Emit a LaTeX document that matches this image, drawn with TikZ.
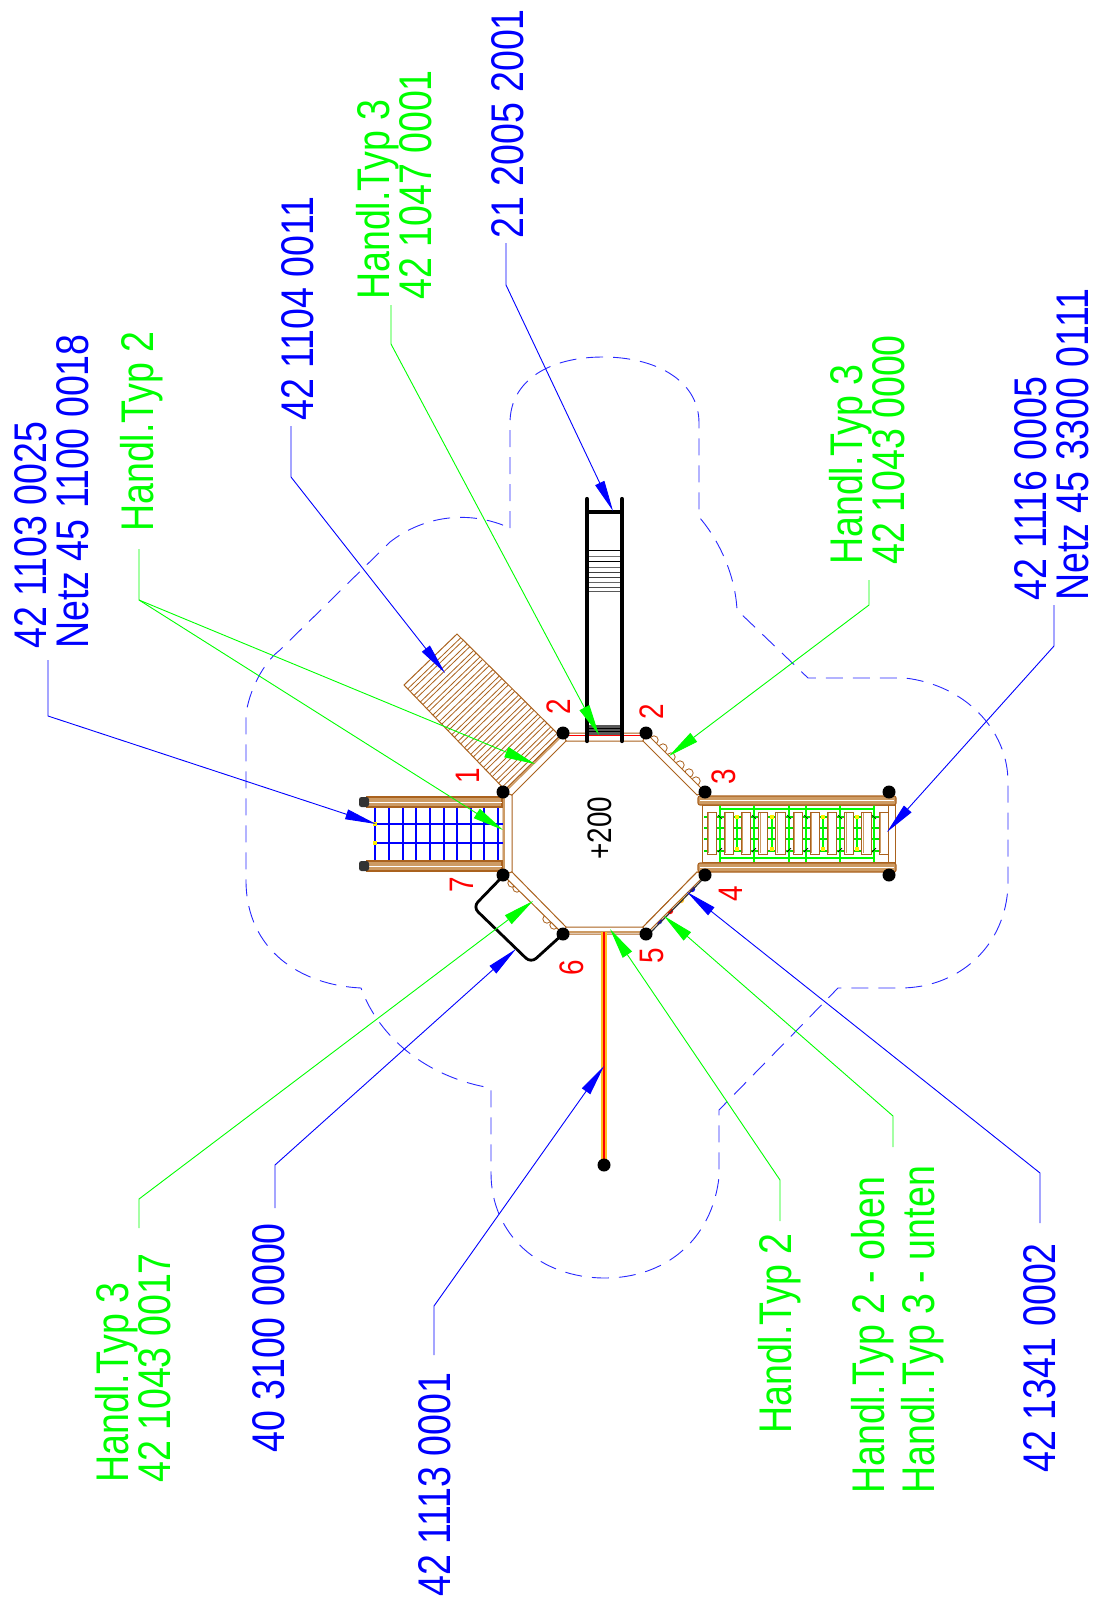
\documentclass[tikz,border=0pt]{standalone}
\usepackage{fontspec}
\setmainfont[FakeStretch=0.82]{Liberation Sans}
\usetikzlibrary{arrows.meta,calc}
\definecolor{bl}{RGB}{0,0,255}
\definecolor{gr}{RGB}{0,255,0}
\definecolor{brn}{RGB}{170,98,30}
\definecolor{tann}{RGB}{205,155,100}
\definecolor{dashbl}{RGB}{40,40,255}
\definecolor{org}{RGB}{255,190,30}
\tikzset{
  lbl/.style={rotate=90,anchor=west,inner sep=0pt,align=left,font=\fontsize{45.8}{42}\selectfont},
  lblwide/.style={lbl,font=\fontsize{45.8}{50}\selectfont},
  blue label/.style={lbl,text=bl},
  green label/.style={lbl,text=gr},
  num/.style={rotate=90,inner sep=0pt,text=red,font=\fontsize{34}{34}\selectfont},
  bleader/.style={draw=bl,line width=.9pt,line join=miter},
  gleader/.style={draw=gr,line width=.9pt,line join=miter},
  btip/.style={-{Triangle[length=31pt,width=10pt,color=bl]}},
  gtip/.style={-{Triangle[length=31pt,width=11pt,color=gr]}},
  post/.style={circle,fill=black,inner sep=0pt,minimum size=13pt},
  panel/.style={draw=brn,fill=white,line width=1pt,line join=miter},
  thinb/.style={draw=brn,line width=.8pt},
  beam/.style={draw=brn,fill=tann,line width=1.1pt},
  boundary/.style={draw=dashbl,line width=.9pt,dash pattern=on 17pt off 10pt},
  netline/.style={draw=bl,line width=2.2pt},
  rung/.style={draw=gr!90!black,line width=1.8pt},
  grail/.style={draw=gr,line width=2.3pt},
  slat/.style={draw=brn,fill=white,line width=.9pt},
}
\begin{document}
\begin{tikzpicture}[x=1pt,y=-1pt]
\useasboundingbox (0,0) rectangle (1095,1609);

% play-area boundary
\draw[boundary] (510,528) -- (510,423) .. controls (510,380) and (550,357) .. (603,357)
  .. controls (655,357) and (699,380) .. (699,423) -- (699,517)
  .. controls (715,535) and (735,570) .. (737,610) -- (808,678) -- (905,678)
  .. controls (965,685) and (1008,730) .. (1008,782) -- (1008,885)
  .. controls (1006,945) and (960,988) .. (900,988) -- (838,988) -- (719,1110) -- (719,1177)
  .. controls (712,1240) and (665,1278) .. (605,1278) .. controls (540,1278) and (491,1235) .. (491,1173)
  -- (491,1088) .. controls (430,1078) and (380,1040) .. (361,988)
  .. controls (300,985) and (247,950) .. (246,882) -- (246,718)
  .. controls (246,700) and (260,665) .. (280,650) -- (390,542)
  .. controls (425,515) and (470,510) .. (510,528);

% octagon corners
\foreach \n/\px/\py in {pa/563/733,pb/646/733,pc/705/792,pd/705/875,pe/646/934,pf/563/934,pg/503/875,ph/503/792}
  \coordinate (\n) at (\px,\py);
\foreach \n/\px/\py in {ia/566/741,ib/643/741,ic/697/795,id/697/872,ie/643/927,if/566/927,ig/512/872,ih/512/795}
  \coordinate (\n) at (\px,\py);

% ramp
\coordinate (ra) at (457,634);
\coordinate (rb) at (565,741);
\coordinate (rc) at (510,795);
\coordinate (rd) at (404,685);
\draw[thinb,line width=1pt] (ra)--(rb)--(rc)--(rd)--cycle;
\foreach \i in {0,...,15}{
  \pgfmathsetmacro{\ta}{0.035+0.0595*\i}
  \pgfmathsetmacro{\tb}{\ta+0.024}
  \draw[thinb] ($(ra)!\ta!(rb)$) -- ($(rd)!\ta!(rc)$);
  \draw[thinb] ($(ra)!\tb!(rb)$) -- ($(rd)!\tb!(rc)$);
}

% panels
\draw[panel] (pa)--(pb)--(ib)--(ia)--cycle;
\draw[red,line width=1pt] (566,735) -- (643,735);
\draw[panel] (pd)--(pe)--(ie)--(id)--cycle;
\draw[panel] (pe)--(pf)--(if)--(ie)--cycle;
\draw[tann,line width=1.4pt] (566,932) -- (643,932);
\draw[panel] (pg)--(ph)--(ih)--(ig)--cycle;
\draw[tann,line width=1.4pt] (504,797) -- (504,872);
\draw[panel] (ph)--(pa)--(ia)--(ih)--cycle;
\draw[tann,line width=1.4pt] (507,790) -- (562,736);

% scallops
\foreach \cx/\cy in {654/740,663/748,671/757,680/765,689/773,696/781}
  \draw[thinb] (\cx,\cy) circle[radius=4.2pt];
\draw[panel] (pb)--(pc)--(ic)--(ib)--cycle;
\foreach \cx/\cy in {512/883,517/888,547/919,554/925}
  \draw[thinb] (\cx,\cy) circle[radius=4.2pt];
\draw[panel] (pf)--(pg)--(ig)--(if)--cycle;

% coloured holds on panel 4-5
\foreach \cx/\cy/\cc in {692/889/bl,681/900/org,670/911/red,659/921/bl}
  \fill[\cc] (\cx,\cy) circle[radius=3.2pt];
\draw[panel] (pd)--(pe)--(ie)--(id)--cycle;
\draw[black!80,line width=1.2pt] (648,935) -- (704,878);

% slide
\foreach \yy/\gg in {550/100,556/55,561/100,567/60,572/75,577/75,582/60,587/70,591/65}
  \draw[black!\gg,line width=1pt] (587,\yy) -- (622,\yy);
\fill[black!65] (587,725) rectangle (622,735);
\foreach \yy in {728,731}
  \draw[black,line width=.5pt] (587,\yy) -- (622,\yy);
\draw[black,line width=4.5pt] (587,512) -- (622,512);
\draw[black,line width=4.2pt,line cap=round] (587,499) -- (587,741);
\draw[black,line width=4.2pt,line cap=round] (622,499) -- (622,741);

% net (left)
\foreach \xx in {375,389,403,416,430,444,457,471,484,498}
  \draw[netline] (\xx,806) -- (\xx,862);
\draw[netline] (375,824) -- (503,824);
\draw[netline] (375,843) -- (503,843);
\fill[yellow] (373,822) rectangle (377,826);
\fill[yellow] (373,841) rectangle (377,845);
\draw[beam] (367,797) rectangle (502,807);
\draw[white,line width=.8pt] (367,802) -- (502,802);
\draw[beam] (367,861) rectangle (502,871);
\draw[white,line width=.8pt] (367,866) -- (502,866);
\fill[black!80,rounded corners=2.5pt] (359,797) rectangle (369,807);
\fill[black!80,rounded corners=2.5pt] (359,861) rectangle (369,871);

% ladder structure (right)
\draw[thinb,fill=white,line width=1pt] (702,805) rectangle (895,862);
\draw[thinb] (888,805) -- (888,862);
\foreach \yy in {817,828,839,851}
  \draw[rung] (704,\yy) -- (887,\yy);
\foreach \i in {0,...,10}{
  \pgfmathsetmacro{\xl}{707+17.2*\i}
  \draw[slat] (\xl,812) rectangle ({\xl+9.3},854);
  \draw[tann,line width=.8pt] ({\xl+1.4},813) -- ({\xl+1.4},853);
}
\foreach \xx in {720,754,789,806,840,874}
  \draw[grail] (\xx,805) -- (\xx,862);
\foreach \xx in {737,772,823,857}
  \draw[grail,line width=1.7pt] (\xx,817) -- (\xx,850);
\draw[grail] (720,809) -- (874,809);
\draw[grail] (720,858) -- (874,858);
\foreach \xx in {737,772,823,857}{
  \fill[yellow] (\xx-2,815) rectangle (\xx+2,819);
  \fill[yellow] (\xx-2,847) rectangle (\xx+2,851);
}
\foreach \xx in {720,754,789,806,840,874}{
  \draw[black,line width=.7pt] (\xx-2,815) -- (\xx+2,819);
  \draw[black,line width=.7pt] (\xx-2,852) -- (\xx+2,848);
}
\draw[beam,rounded corners=2pt] (698,796) rectangle (896,805);
\draw[white,line width=.8pt] (700,800.5) -- (894,800.5);
\draw[beam,rounded corners=2pt] (698,863) rectangle (896,872);
\draw[white,line width=.8pt] (700,867.5) -- (894,867.5);

% sliding pole
\draw[org,line width=6pt] (604,932) -- (604,1165);
\draw[red,line width=2.8pt] (604,932) -- (604,1165);

% hand rail
\draw[black,line width=2.8pt,rounded corners=7pt] (504,875) -- (473,907) -- (531,963) -- (563,934);

% posts
\node[post] (p1) at (pa) {};
\node[post] (p2) at (pb) {};
\node[post] (p3) at (pc) {};
\node[post] (p4) at (pd) {};
\node[post] (p5) at (pe) {};
\node[post] (p6) at (pf) {};
\node[post] (p7) at (pg) {};
\node[post] (p8) at (ph) {};
\node[post] (p9) at (889,792) {};
\node[post] (p10) at (889,875) {};
\node[post] (p11) at (604,1165) {};

% centre and numbers
\node[rotate=90,inner sep=0pt,font=\fontsize{34}{34}\selectfont] (lev) at (600,828) {+200};
\node[num] (n1) at (468,776) {1};
\node[num] (n2a) at (559,707) {2};
\node[num] (n2b) at (652,712) {2};
\node[num] (n3) at (724,777) {3};
\node[num] (n4) at (731,894) {4};
\node[num] (n5) at (652,956) {5};
\node[num] (n6) at (572,968) {6};
\node[num] (n7) at (462,885) {7};

% labels
\node[blue label] (l1) at (52,649) {42 1103 0025\\Netz 45 1100 0018};
\node[green label] (l2) at (142,532) {Handl.Typ 2};
\node[blue label] (l3) at (298,421) {42 1104 0011};
\node[green label] (l4) at (394,300) {Handl.Typ 3\\42 1047 0001};
\node[blue label] (l5) at (508,239) {21 2005 2001};
\node[green label] (l6) at (867,565) {Handl.Typ 3\\42 1043 0000};
\node[blue label] (l7) at (1052,601) {42 1116 0005\\Netz 45 3300 0111};
\node[green label] (l8) at (133,1483) {Handl.Typ 3\\42 1043 0017};
\node[blue label] (l9) at (269,1453) {40 3100 0000};
\node[blue label] (l10) at (435,1597) {42 1113 0001};
\node[green label] (l11) at (780,1434) {Handl.Typ 2};
\node[lblwide,text=gr] (l12) at (898,1494) {Handl.Typ 2 - oben\\Handl.Typ 3 - unten};
\node[blue label] (l13) at (1040,1473) {42 1341 0002};

% leaders
\coordinate (a1) at (48,660); \coordinate (b1) at (48,716); \coordinate (t1) at (376,824);
\draw[bleader,btip] (a1) -- (b1) -- (t1);
\coordinate (a2) at (139,549); \coordinate (b2) at (139,600); \coordinate (t2a) at (535,764); \coordinate (t2b) at (503,830);
\draw[gleader,gtip] (a2) -- (b2) -- (t2a);
\draw[gleader,gtip] (b2) -- (t2b);
\coordinate (a3) at (291,426); \coordinate (b3) at (291,477); \coordinate (t3) at (445,673);
\draw[bleader,btip] (a3) -- (b3) -- (t3);
\coordinate (a4) at (391,305); \coordinate (b4) at (391,344); \coordinate (t4) at (599,735);
\draw[gleader,gtip] (a4) -- (b4) -- (t4);
\coordinate (a5) at (506,243); \coordinate (b5) at (506,285); \coordinate (t5) at (613,511);
\draw[bleader,btip] (a5) -- (b5) -- (t5);
\coordinate (a6) at (869,580); \coordinate (b6) at (869,605); \coordinate (t6) at (669,756);
\draw[gleader,gtip] (a6) -- (b6) -- (t6);
\coordinate (a7) at (1054,605); \coordinate (b7) at (1054,646); \coordinate (t7) at (887,832);
\draw[bleader,btip] (a7) -- (b7) -- (t7);
\coordinate (a8) at (139,1228); \coordinate (b8) at (139,1199); \coordinate (t8) at (533,901);
\draw[gleader,gtip] (a8) -- (b8) -- (t8);
\coordinate (a9) at (275,1208); \coordinate (b9) at (275,1165); \coordinate (t9) at (516,949);
\draw[bleader,btip] (a9) -- (b9) -- (t9);
\coordinate (a10) at (434,1355); \coordinate (b10) at (434,1306); \coordinate (t10) at (604,1066);
\draw[bleader,btip] (a10) -- (b10) -- (t10);
\coordinate (a11) at (780,1221); \coordinate (b11) at (780,1180); \coordinate (t11) at (610,929);
\draw[gleader,gtip] (a11) -- (b11) -- (t11);
\coordinate (a12) at (893,1147); \coordinate (b12) at (893,1116); \coordinate (t12) at (664,916);
\draw[gleader,gtip] (a12) -- (b12) -- (t12);
\coordinate (a13) at (1040,1223); \coordinate (b13) at (1040,1173); \coordinate (t13) at (687,892);
\draw[bleader,btip] (a13) -- (b13) -- (t13);
\end{tikzpicture}
\end{document}
